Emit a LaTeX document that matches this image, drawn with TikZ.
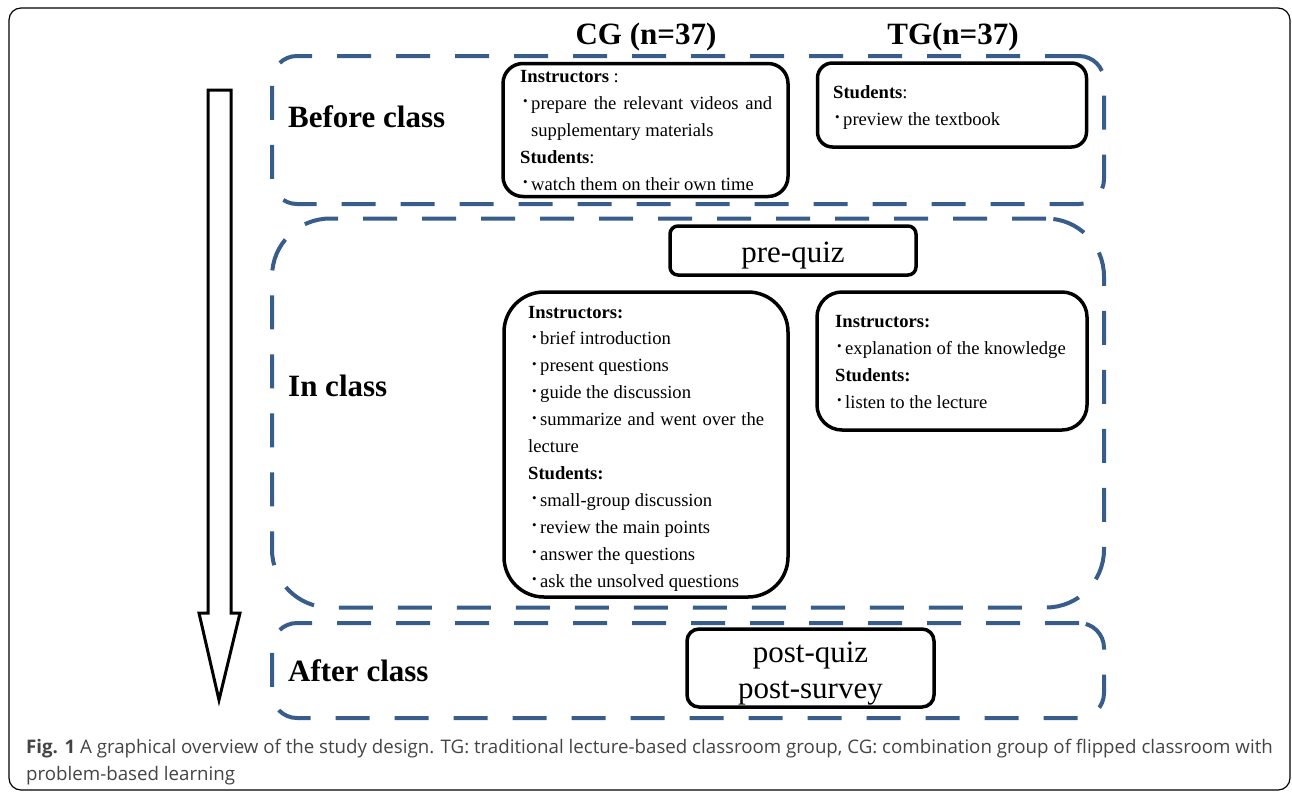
\documentclass[tikz,border=0pt]{standalone}
\usepackage{fontspec}
\setmainfont{Liberation Serif}
\newfontfamily\capfont{Open Sans}
\definecolor{dashblue}{RGB}{56,93,138}
\definecolor{capgray}{RGB}{68,68,68}
\newcommand{\bul}{\makebox[8pt][l]{\raisebox{3.5pt}{\fontsize{13}{13}\selectfont\textbullet}}}
\begin{document}
\begin{tikzpicture}[x=1pt,y=-1pt,
  phase/.style={draw=dashblue, line width=4pt, dash pattern=on 34pt off 25pt, inner sep=0pt},
  cbox/.style={draw=black, line width=3.5pt, inner sep=0pt},
  txt/.style={anchor=base west, inner sep=0pt, font=\fontsize{18.6}{22}\selectfont},
  big/.style={inner sep=0pt, font=\fontsize{31}{36}\selectfont\bfseries},
  quiztext/.style={inner sep=0pt, align=center, font=\fontsize{31}{36}\selectfont},
  captext/.style={anchor=base west, inner sep=0pt, text=capgray, font=\capfont\fontsize{18.7}{27}\selectfont},
]
\useasboundingbox (0,0) rectangle (1292,793);
% outer frame
\draw[line width=1.2pt, rounded corners=12pt] (9,8) rectangle (1290,790);

% time arrow
\draw[line width=3pt, line join=miter] (208,90) -- (231,90) -- (231,613) -- (240,613) -- (219,700) -- (199,613) -- (208,613) -- cycle;

% phase boxes
\node[phase, rounded corners=25pt, minimum width=832pt, minimum height=148pt] (phbefore) at (688,130) {};
\node[phase, rounded corners=58pt, minimum width=832pt, minimum height=389pt] (phin) at (688,413) {};
\node[phase, rounded corners=25pt, minimum width=832pt, minimum height=95pt] (phafter) at (688,670.5) {};

% phase labels
\node[big, anchor=west] (lbefore) at (288,117) {Before class};
\node[big, anchor=west] (lin) at (288,386) {In class};
\node[big, anchor=west] (lafter) at (288,671) {After class};

% headers
\node[big] (cghead) at (646,37) {CG (n=37)};
\node[big] (tghead) at (953,37) {TG(n=37)};

% content boxes
\node[cbox, rounded corners=20pt, minimum width=285pt, minimum height=133pt] (cgbefore) at (645.5,130) {};
\node[cbox, rounded corners=15pt, minimum width=269pt, minimum height=84pt] (tgbefore) at (952,105) {};
\node[cbox, rounded corners=8pt, minimum width=246pt, minimum height=49pt] (prequiz) at (793,250.5) {};
\node[quiztext, yshift=-5pt] (prequiztext) at (prequiz.center) {pre-quiz};
\node[cbox, rounded corners=40pt, minimum width=284pt, minimum height=305pt] (cgin) at (646,444.5) {};
\node[cbox, rounded corners=25pt, minimum width=270pt, minimum height=138pt] (tgin) at (952,361) {};
\node[cbox, rounded corners=12pt, minimum width=247pt, minimum height=78pt] (post) at (810.5,668) {};
\node[quiztext, yshift=-5.5pt] (posttext) at (post.center) {post-quiz\\post-survey};

% CG before class text
\node[txt] (cgb1) at (520,82) {\textbf{Instructors} :};
\node[txt] (cgb2) at (523,109) {\bul\makebox[241pt][s]{prepare the relevant videos and}};
\node[txt] (cgb3) at (531,136) {supplementary materials};
\node[txt] (cgb4) at (520,163) {\textbf{Students}:};
\node[txt] (cgb5) at (523,190) {\bul watch them on their own time};

% TG before class text
\node[txt] (tgb1) at (833,98) {\textbf{Students}:};
\node[txt] (tgb2) at (835,125) {\bul preview the textbook};

% CG in class text
\node[txt] (cgi1) at (528,318) {\textbf{Instructors:}};
\node[txt] (cgi2) at (532,344.9) {\bul brief introduction};
\node[txt] (cgi3) at (532,371.8) {\bul present questions};
\node[txt] (cgi4) at (532,398.7) {\bul guide the discussion};
\node[txt] (cgi5) at (532,425.6) {\bul\makebox[224pt][s]{summarize and went over the}};
\node[txt] (cgi6) at (528,452.5) {lecture};
\node[txt] (cgi7) at (528,479.4) {\textbf{Students:}};
\node[txt] (cgi8) at (532,506.3) {\bul small-group discussion};
\node[txt] (cgi9) at (532,533.2) {\bul review the main points};
\node[txt] (cgi10) at (532,560.1) {\bul answer the questions};
\node[txt] (cgi11) at (532,587) {\bul ask the unsolved questions};

% TG in class text
\node[txt] (tgi1) at (835,327) {\textbf{Instructors:}};
\node[txt] (tgi2) at (837,354) {\bul explanation of the knowledge};
\node[txt] (tgi3) at (835,381) {\textbf{Students:}};
\node[txt] (tgi4) at (837,408) {\bul listen to the lecture};

% caption
\node[captext] (cap1) at (26,753) {\textbf{Fig. 1} A graphical overview of the study design. TG: traditional lecture-based classroom group, CG: combination group of flipped classroom with};
\node[captext] (cap2) at (26,780) {problem-based learning};
\end{tikzpicture}
\end{document}
